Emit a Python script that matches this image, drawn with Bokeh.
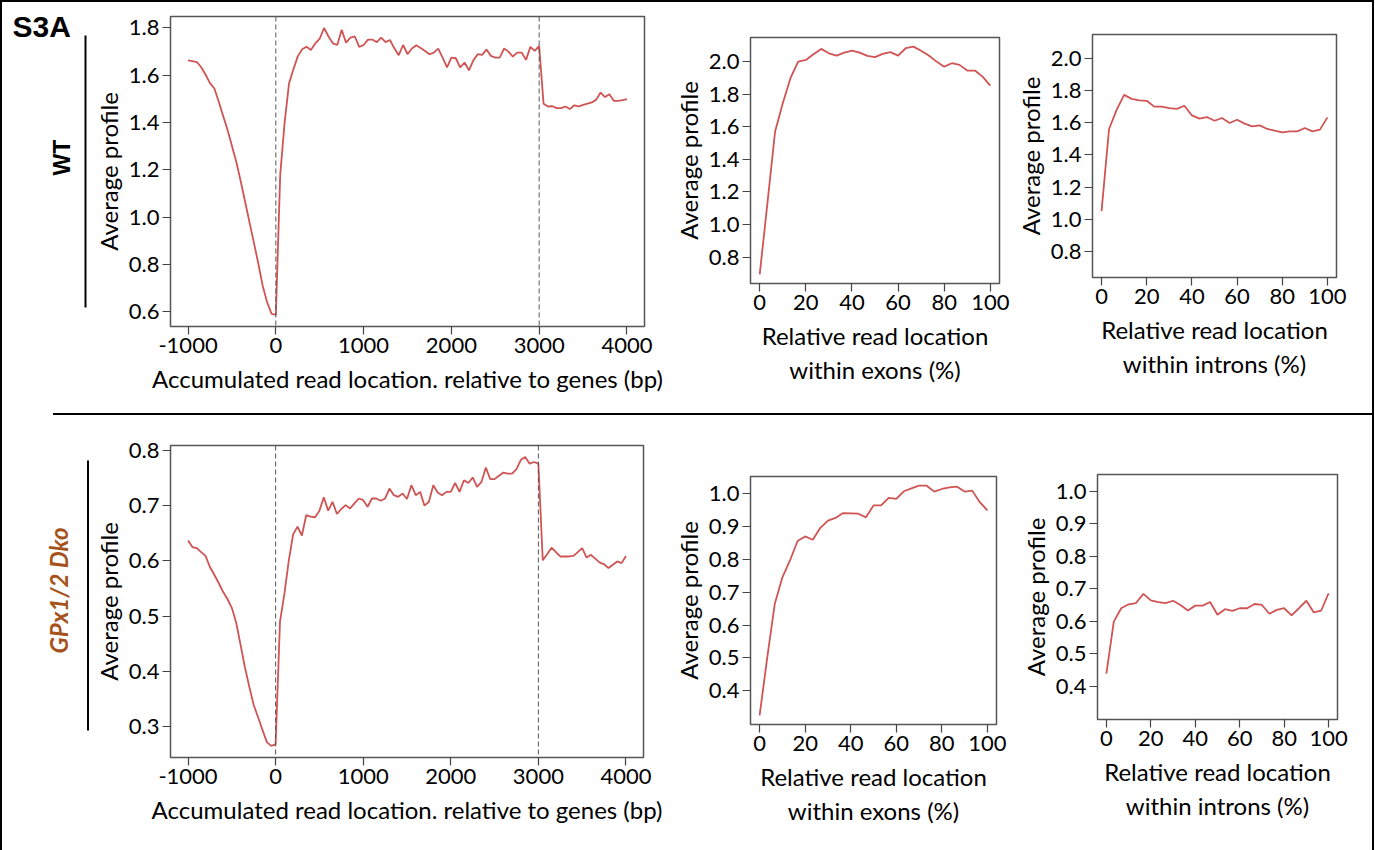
import numpy as np
from bokeh.plotting import figure
from bokeh.models import Range1d, FixedTicker, NumeralTickFormatter, Span, Label, Div
from bokeh.layouts import row, column
from bokeh.embed import file_html
from bokeh.resources import INLINE

# ---------------- data ----------------
gene_pos = list(range(-1000, 4001, 50))          # accumulated read location (bp)
gene_boundaries = [0, 3000]                       # TSS / TES dashed lines

wt_gene = [1.663, 1.660, 1.656, 1.634, 1.602, 1.567, 1.544, 1.488, 1.428, 1.369,
           1.301, 1.233, 1.152, 1.065, 0.978, 0.892, 0.804, 0.710, 0.641, 0.592,
           0.586, 1.180, 1.400, 1.565, 1.625, 1.680, 1.710, 1.721, 1.707, 1.735,
           1.755, 1.800, 1.764, 1.735, 1.728, 1.792, 1.738, 1.759, 1.764, 1.720,
           1.728, 1.751, 1.751, 1.740, 1.759, 1.740, 1.749, 1.714, 1.685, 1.728,
           1.689, 1.713, 1.727, 1.715, 1.703, 1.689, 1.696, 1.713, 1.675, 1.633,
           1.675, 1.672, 1.633, 1.654, 1.621, 1.663, 1.689, 1.686, 1.709, 1.682,
           1.675, 1.675, 1.713, 1.700, 1.679, 1.696, 1.696, 1.665, 1.720, 1.703,
           1.724, 1.480, 1.468, 1.469, 1.461, 1.461, 1.468, 1.457, 1.473, 1.468,
           1.475, 1.480, 1.485, 1.497, 1.527, 1.508, 1.520, 1.492, 1.492, 1.495,
           1.499]

ko_gene = [0.637, 0.625, 0.623, 0.616, 0.609, 0.589, 0.575, 0.560, 0.544, 0.531,
           0.515, 0.488, 0.448, 0.407, 0.372, 0.339, 0.317, 0.294, 0.272, 0.265,
           0.268, 0.490, 0.540, 0.600, 0.648, 0.662, 0.646, 0.683, 0.680, 0.679,
           0.691, 0.715, 0.691, 0.707, 0.685, 0.694, 0.701, 0.695, 0.704, 0.713,
           0.710, 0.698, 0.713, 0.713, 0.709, 0.713, 0.731, 0.719, 0.716, 0.722,
           0.712, 0.737, 0.719, 0.725, 0.700, 0.707, 0.737, 0.724, 0.719, 0.725,
           0.725, 0.741, 0.725, 0.746, 0.741, 0.751, 0.734, 0.743, 0.769, 0.748,
           0.748, 0.754, 0.760, 0.758, 0.758, 0.766, 0.783, 0.788, 0.776, 0.779,
           0.776, 0.601, 0.612, 0.624, 0.616, 0.608, 0.608, 0.608, 0.609, 0.616,
           0.623, 0.606, 0.611, 0.604, 0.597, 0.594, 0.587, 0.593, 0.599, 0.596,
           0.609]

rel_pos = [i * 100 / 30 for i in range(31)]      # relative read location (%)

wt_exon = [0.694, 1.130, 1.571, 1.745, 1.898, 2.000, 2.010, 2.045, 2.078, 2.051,
           2.037, 2.055, 2.067, 2.055, 2.035, 2.027, 2.047, 2.058, 2.037, 2.082,
           2.092, 2.067, 2.037, 2.000, 1.969, 1.990, 1.980, 1.945, 1.945, 1.908,
           1.853]
wt_intron = [1.051, 1.561, 1.680, 1.773, 1.748, 1.738, 1.736, 1.700, 1.700, 1.691,
             1.686, 1.705, 1.645, 1.625, 1.635, 1.612, 1.629, 1.598, 1.618, 1.594,
             1.577, 1.583, 1.561, 1.550, 1.540, 1.546, 1.546, 1.567, 1.546, 1.557,
             1.633]
ko_exon = [0.326, 0.500, 0.665, 0.745, 0.796, 0.855, 0.869, 0.859, 0.895, 0.917,
           0.925, 0.940, 0.939, 0.938, 0.927, 0.963, 0.963, 0.986, 0.983, 1.006,
           1.015, 1.023, 1.023, 1.005, 1.013, 1.018, 1.020, 1.005, 1.008, 0.973,
           0.948]
ko_intron = [0.439, 0.599, 0.640, 0.652, 0.656, 0.684, 0.664, 0.659, 0.656, 0.663,
             0.650, 0.633, 0.648, 0.648, 0.659, 0.620, 0.637, 0.632, 0.640, 0.640,
             0.653, 0.650, 0.623, 0.635, 0.640, 0.618, 0.640, 0.663, 0.627, 0.633,
             0.686]

gene_xticks = [-1000, 0, 1000, 2000, 3000, 4000]
rel_xticks = [0, 20, 40, 60, 80, 100]
wt_gene_yticks = [0.6, 0.8, 1.0, 1.2, 1.4, 1.6, 1.8]
wt_rel_yticks = [0.8, 1.0, 1.2, 1.4, 1.6, 1.8, 2.0]
ko_gene_yticks = [0.3, 0.4, 0.5, 0.6, 0.7, 0.8]
ko_rel_yticks = [0.4, 0.5, 0.6, 0.7, 0.8, 0.9, 1.0]

gene_xlabel = "Accumulated read location. relative to genes (bp)"
exon_xlabel = "Relative read location\nwithin exons (%)"
intron_xlabel = "Relative read location\nwithin introns (%)"
ylabel = "Average profile"
panel_tag = "S3A"
row_labels = ["WT", "GPx1/2 Dko"]

# ---------------- styling ----------------
FONT = "Lato"
LINE_COLOR = "#D05454"
FRAME_COLOR = "#555555"


def padded(*series, frac=0.04):
    lo = min(min(s) for s in series)
    hi = max(max(s) for s in series)
    span = hi - lo
    return (lo - frac * span, hi + frac * span)


def panel(x, y, xr, yr, xticks, yticks, xlabel, fw, fh, ml, mr, mt, mb, boundaries=None):
    p = figure(width=ml + fw + mr, height=mt + fh + mb,
               x_range=Range1d(*xr), y_range=Range1d(*yr),
               output_backend="svg", toolbar_location=None,
               min_border_left=ml, min_border_right=mr,
               min_border_top=mt, min_border_bottom=mb)
    p.frame_align = False
    p.grid.visible = False
    p.outline_line_color = FRAME_COLOR
    p.outline_line_width = 1.5
    p.background_fill_color = "white"
    p.border_fill_color = "white"
    for ax in (p.xaxis[0], p.yaxis[0]):
        ax.axis_line_color = None
        ax.major_tick_line_color = "#444444"
        ax.major_tick_line_width = 1.2
        ax.major_tick_in = 0
        ax.major_tick_out = 8
        ax.minor_tick_line_color = None
        ax.major_label_text_font = FONT
        ax.major_label_text_font_size = "22px"
        ax.major_label_text_color = "black"
        ax.axis_label_text_font = FONT
        ax.axis_label_text_font_size = "24px"
        ax.axis_label_text_font_style = "normal"
        ax.axis_label_text_color = "black"
        ax.major_label_standoff = 3
    p.xaxis.axis_label_standoff = 8
    p.yaxis.axis_label_standoff = 3
    p.xaxis.ticker = FixedTicker(ticks=xticks)
    p.yaxis.ticker = FixedTicker(ticks=yticks)
    p.xaxis.formatter = NumeralTickFormatter(format="0")
    p.yaxis.formatter = NumeralTickFormatter(format="0.0")
    p.xaxis.axis_label = xlabel
    p.yaxis.axis_label = ylabel
    if boundaries:
        for b in boundaries:
            p.add_layout(Span(location=b, dimension="height", line_color="#555555",
                              line_width=1, line_dash="5 3"))
    p.line(x, y, line_color=LINE_COLOR, line_width=1.8)
    return p


def label_fig(h):
    p = figure(width=88, height=h, x_range=Range1d(0, 88), y_range=Range1d(h, 0),
               output_backend="svg", toolbar_location=None,
               x_axis_location=None, y_axis_location=None, min_border=0)
    p.frame_align = False
    p.grid.visible = False
    p.outline_line_color = None
    return p


H1, H2 = 411, 435

# top row
la = label_fig(H1)
la.add_layout(Label(x=10, y=24, text=panel_tag, text_font="Liberation Sans",
                    text_font_style="bold", text_font_size="30px", text_color="black",
                    text_baseline="alphabetic", text_align="left"))
la.add_layout(Label(x=59.5, y=155, text=row_labels[0], angle=np.pi / 2,
                    text_font="Liberation Sans", text_font_style="bold", text_color="black",
                    text_font_size="23px", text_align="center", text_baseline="middle"))
la.segment(x0=[83], y0=[33], x1=[83], y1=[305], line_color="black", line_width=2)

exon_yr_wt = padded(wt_exon, wt_intron)
pa = panel(gene_pos, wt_gene, padded(gene_pos), padded(wt_gene), gene_xticks, wt_gene_yticks,
           gene_xlabel, 474, 310, 80, 26, 14, 87, boundaries=gene_boundaries)
pb = panel(rel_pos, wt_exon, padded(rel_pos), exon_yr_wt, rel_xticks, wt_rel_yticks,
           exon_xlabel, 250, 246, 79, 11, 35, 130)
pc = panel(rel_pos, wt_intron, padded(rel_pos), exon_yr_wt, rel_xticks, wt_rel_yticks,
           intron_xlabel, 244, 243, 82, 36, 32, 136)

# bottom row
lb = label_fig(H2)
lb.add_layout(Label(x=56, y=175, text=row_labels[1], angle=np.pi / 2,
                    text_font=FONT, text_font_style="bold italic", text_color="#A5531B",
                    text_font_size="24px", text_align="center", text_baseline="middle"))
lb.segment(x0=[85.5], y0=[45], x1=[85.5], y1=[315], line_color="black", line_width=2)

exon_yr_ko = padded(ko_exon, ko_intron)
pd_ = panel(gene_pos, ko_gene, padded(gene_pos), padded(ko_gene), gene_xticks, ko_gene_yticks,
            gene_xlabel, 476, 312, 77, 27, 30, 93, boundaries=gene_boundaries)
pe = panel(rel_pos, ko_exon, padded(rel_pos), exon_yr_ko, rel_xticks, ko_rel_yticks,
           exon_xlabel, 250, 248, 76, 14, 61, 126)
pf = panel(rel_pos, ko_intron, padded(rel_pos), exon_yr_ko, rel_xticks, ko_rel_yticks,
           intron_xlabel, 240, 245, 87, 35, 59, 131)

divider = Div(text="", width=1319, height=2, margin=(0, 0, 0, 51),
              styles={"background-color": "black"})

layout = column(row(la, pa, pb, pc), divider, row(lb, pd_, pe, pf),
                styles={"border-top": "2px solid black", "border-left": "2px solid black",
                        "border-right": "2px solid black"})

open("out.html", "w").write(file_html(layout, INLINE))
